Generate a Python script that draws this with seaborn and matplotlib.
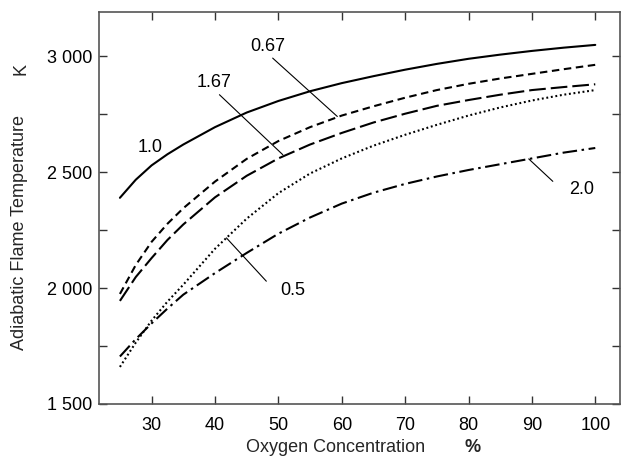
import numpy as np
import pandas as pd
import seaborn as sns
import matplotlib
matplotlib.use("Agg")
import matplotlib.pyplot as plt
from matplotlib.ticker import FuncFormatter, MultipleLocator

# oxygen concentration (%) at which the curves were read
oxygen = [25, 27.5, 30, 32.5, 35, 40, 45, 50, 55, 60, 65, 70, 75, 80, 85, 90, 95, 100]

# adiabatic flame temperature (K) per equivalence ratio
t_100 = [2390, 2468, 2530, 2578, 2620, 2695, 2758, 2808, 2850, 2885, 2915, 2943, 2968, 2990, 3008, 3024, 3038, 3050]
t_067 = [1975, 2100, 2200, 2278, 2345, 2460, 2558, 2635, 2695, 2745, 2785, 2822, 2855, 2882, 2905, 2925, 2945, 2964]
t_167 = [1945, 2048, 2130, 2208, 2275, 2392, 2485, 2560, 2620, 2670, 2715, 2753, 2787, 2812, 2835, 2855, 2868, 2880]
t_050 = [1660, 1765, 1860, 1942, 2015, 2170, 2300, 2410, 2495, 2560, 2615, 2662, 2705, 2745, 2780, 2810, 2835, 2855]
t_200 = [1705, 1780, 1848, 1912, 1972, 2065, 2152, 2235, 2305, 2365, 2412, 2450, 2482, 2510, 2535, 2560, 2585, 2605]

ratios = ["1.0", "0.67", "1.67", "0.5", "2.0"]
series = [t_100, t_067, t_167, t_050, t_200]

rows = []
for r, temps in zip(ratios, series):
    for o, t in zip(oxygen, temps):
        rows.append({"oxygen": o, "temp": t, "ratio": r})
df = pd.DataFrame(rows)

sns.set_theme(style="ticks")
plt.rcParams["font.family"] = ["Liberation Sans", "DejaVu Sans"]

fig = plt.figure(figsize=(6.27, 4.57), dpi=100)
ax = fig.add_axes([99 / 627, 1 - 404 / 457, 521 / 627, 392 / 457])

dash_styles = {
    "1.0": "",
    "0.67": (3.6, 2.2),
    "1.67": (8, 2.4),
    "0.5": (0.9, 1.3),
    "2.0": (7, 2.2, 1.2, 2.2),
}
sns.lineplot(data=df, x="oxygen", y="temp", style="ratio", dashes=dash_styles,
             style_order=ratios, color="black", linewidth=1.5, legend=False, ax=ax)

ax.set_xlim(21.7, 103.9)
ax.set_ylim(1500, 3192)
ax.yaxis.set_major_locator(MultipleLocator(500))
ax.yaxis.set_minor_locator(MultipleLocator(250))
ax.set_xticks(range(30, 101, 10))
ax.yaxis.set_major_formatter(FuncFormatter(lambda v, p: f"{int(v):,}".replace(",", " ")))

for side in ["left", "right", "top", "bottom"]:
    ax.spines[side].set_visible(True)
    ax.spines[side].set_color("#555555")
    ax.spines[side].set_linewidth(1.2)

ax.tick_params(which="both", direction="in", length=6, width=1, color="#333333",
               top=True, right=True, labelsize=13, labelcolor="black")
ax.tick_params(axis="x", pad=9)
ax.tick_params(axis="y", pad=5)
ax.set_xlabel("")
ax.set_ylabel("")

# curve labels with leader lines
lab = dict(fontsize=13, color="black", ha="center", va="center")
ax.text(29.7, 2606, "1.0", **lab)
ax.text(39.9, 2887, "1.67", **lab)
ax.text(48.3, 3042, "0.67", **lab)
ax.text(52.3, 1991, "0.5", **lab)
ax.text(97.8, 2425, "2.0", **lab)
leader = dict(color="black", linewidth=0.8)
ax.plot([40.7, 50.7], [2835, 2576], **leader)
ax.plot([49.1, 59.3], [2993, 2741], **leader)
ax.plot([41.8, 48.1], [2217, 2030], **leader)
ax.plot([89.5, 93.3], [2558, 2461], **leader)

# axis titles placed as on the original
fig.text(336 / 627, 1 - 447 / 457, "Oxygen Concentration", fontsize=13, ha="center", va="center")
fig.text(473 / 627, 1 - 447 / 457, "%", fontsize=13, fontweight="bold", ha="center", va="center")
fig.text(20 / 627, 1 - 232 / 457, "Adiabatic Flame Temperature", fontsize=13,
         rotation=90, ha="center", va="center")
fig.text(21 / 627, 1 - 69 / 457, "K", fontsize=13, rotation=90, ha="center", va="center")

fig.savefig("out.png", dpi=100)
